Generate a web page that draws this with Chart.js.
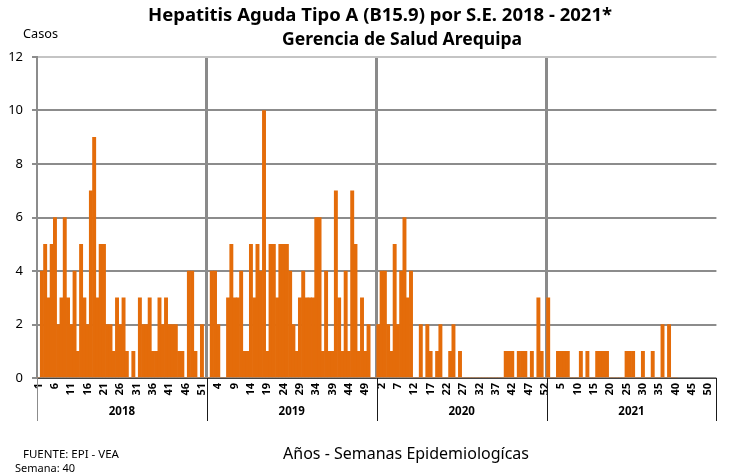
<!DOCTYPE html>
<html>
<head>
<meta charset="utf-8">
<script src="https://cdn.jsdelivr.net/npm/chart.js@4/dist/chart.umd.min.js"></script>
<style>
  html, body { margin: 0; padding: 0; background: #ffffff; }
  #wrap { width: 730px; height: 474px; position: relative; }
</style>
</head>
<body>
<div id="wrap"><canvas id="chart" width="730" height="474"></canvas></div>
<script>
// Casos semanales de Hepatitis A por año (semanas epidemiológicas 1-52)
const years = ['2018', '2019', '2020', '2021'];
const weeksPerYear = 52;

const cases2018 = [0, 4, 5, 3, 5, 6, 2, 3, 6, 3, 2, 4, 1, 5, 3, 2, 7, 9, 3, 5,
                   5, 2, 2, 1, 3, 2, 3, 1, 0, 1, 0, 3, 2, 2, 3, 1, 1, 3, 2, 3,
                   2, 2, 2, 1, 1, 0, 4, 4, 1, 0, 2, 0];
const cases2019 = [0, 4, 4, 2, 0, 0, 3, 5, 3, 3, 4, 1, 1, 5, 3, 5, 4, 10, 1, 5,
                   5, 3, 5, 5, 5, 4, 2, 1, 3, 4, 3, 3, 3, 6, 6, 1, 4, 1, 1, 7,
                   3, 1, 4, 1, 7, 5, 1, 3, 1, 2, 0, 0];
const cases2020 = [2, 4, 4, 2, 1, 5, 2, 4, 6, 3, 4, 0, 0, 2, 0, 2, 1, 0, 1, 2,
                   0, 0, 1, 2, 0, 1, 0, 0, 0, 0, 0, 0, 0, 0, 0, 0, 0, 0, 0, 1,
                   1, 1, 0, 1, 1, 1, 0, 1, 0, 3, 1, 0];
const cases2021 = [3, 0, 0, 1, 1, 1, 1, 0, 0, 0, 1, 0, 1, 0, 0, 1, 1, 1, 1, 0,
                   0, 0, 0, 0, 1, 1, 1, 0, 0, 1, 0, 0, 1, 0, 0, 2, 0, 2, 0, 0,
                   null, null, null, null, null, null, null, null, null, null, null, null];

const yTicks = [0, 2, 4, 6, 8, 10, 12];
const labelEvery = 5;

const titleLines = ['Hepatitis Aguda Tipo A (B15.9) por S.E. 2018 - 2021*', 'Gerencia de Salud Arequipa'];
const yAxisTitle = 'Casos';
const xAxisTitle = 'Años - Semanas Epidemiologícas';
const sourceNote = 'FUENTE: EPI - VEA';
const weekNote = 'Semana: 40';

// Etiquetas de categoría: número de semana dentro de cada año
const weekLabels = [];
years.forEach(() => { for (let w = 1; w <= weeksPerYear; w++) weekLabels.push(String(w)); });
const allCases = [].concat(cases2018, cases2019, cases2020, cases2021);

const FONT = '"Noto Sans", "Open Sans", sans-serif';

// Fila de años bajo el eje X y textos fijos del gráfico
const frame = {
  id: 'frame',
  afterDraw(chart) {
    const { ctx, chartArea, scales: { x } } = chart;
    const half = (x.getPixelForValue(1) - x.getPixelForValue(0)) / 2;
    ctx.save();
    // separadores de la fila de años
    for (let b = 0; b <= years.length; b++) {
      const px = b < years.length
        ? x.getPixelForValue(b * weeksPerYear) - half
        : x.getPixelForValue(years.length * weeksPerYear - 1) + half;
      ctx.beginPath();
      ctx.strokeStyle = b === 0 ? '#8c8c8c' : '#1a1a1a';
      ctx.lineWidth = 1;
      ctx.moveTo(Math.round(px) + 0.5, chartArea.bottom);
      ctx.lineTo(Math.round(px) + 0.5, 421);
      ctx.stroke();
    }
    ctx.fillStyle = '#000';
    ctx.font = 'bold 11.5px ' + FONT;
    ctx.textAlign = 'center';
    ctx.textBaseline = 'alphabetic';
    years.forEach((yr, i) => {
      const a = x.getPixelForValue(i * weeksPerYear) - half;
      const b = x.getPixelForValue((i + 1) * weeksPerYear - 1) + half;
      ctx.fillText(yr, (a + b) / 2, 415);
    });

    // títulos
    ctx.font = 'bold 18.5px ' + FONT;
    ctx.fillText(titleLines[0], 380, 21, 464);
    ctx.font = 'bold 18px ' + FONT;
    ctx.fillText(titleLines[1], 402, 45, 240);

    ctx.font = '13px ' + FONT;
    ctx.textAlign = 'left';
    ctx.fillText(yAxisTitle, 23, 38, 35);

    ctx.font = '16px ' + FONT;
    ctx.textAlign = 'center';
    ctx.fillText(xAxisTitle, 406, 459, 246);

    ctx.font = '11.5px ' + FONT;
    ctx.textAlign = 'left';
    ctx.fillText(sourceNote, 23, 458, 98);
    ctx.font = '11px ' + FONT;
    ctx.fillText(weekNote, 15, 472, 63);
    ctx.restore();
  }
};

new Chart(document.getElementById('chart'), {
  type: 'bar',
  data: {
    labels: weekLabels,
    datasets: [{
      data: allCases,
      backgroundColor: '#e46c0a',
      borderWidth: 0,
      categoryPercentage: 1.0,
      barPercentage: 1.0
    }]
  },
  options: {
    responsive: false,
    animation: false,
    layout: { padding: { top: 57, right: 8, bottom: 0, left: 0 } },
    plugins: {
      legend: { display: false },
      tooltip: { enabled: false },
      title: { display: false }
    },
    scales: {
      x: {
        type: 'category',
        offset: true,
        afterFit(scale) { scale.height = 96; },
        border: { display: true, color: '#444', width: 1 },
        grid: {
          offset: true,
          drawOnChartArea: true,
          color: (c) => (c.index % weeksPerYear === 0 && c.index > 0) ? '#8a8a8a' : 'rgba(0,0,0,0)',
          lineWidth: (c) => (c.index % weeksPerYear === 0 && c.index > 0) ? (c.index === weekLabels.length ? 2 : 3) : 0,
          tickColor: 'rgba(0,0,0,0)',
          tickLength: 3
        },
        ticks: {
          autoSkip: false,
          minRotation: 90,
          maxRotation: 90,
          padding: 2,
          color: '#000',
          font: { family: FONT, size: 11, weight: 'bold' },
          callback: function (value, index) {
            return index % labelEvery === 0 ? this.getLabelForValue(value) : '';
          }
        }
      },
      y: {
        min: yTicks[0],
        max: yTicks[yTicks.length - 1],
        afterFit(scale) { scale.width = 37; },
        afterBuildTicks(scale) { scale.ticks = yTicks.map(v => ({ value: v })); },
        border: { display: true, color: '#8c8c8c', width: 2 },
        grid: {
          color: (c) => c.tick && c.tick.value === 12 ? '#c4c4c4' : '#8c8c8c',
          lineWidth: 2,
          tickLength: 5,
          tickColor: '#8c8c8c'
        },
        ticks: {
          padding: 9,
          color: '#000',
          font: { family: FONT, size: 13 }
        }
      }
    }
  },
  plugins: [frame]
});
</script>
</body>
</html>
